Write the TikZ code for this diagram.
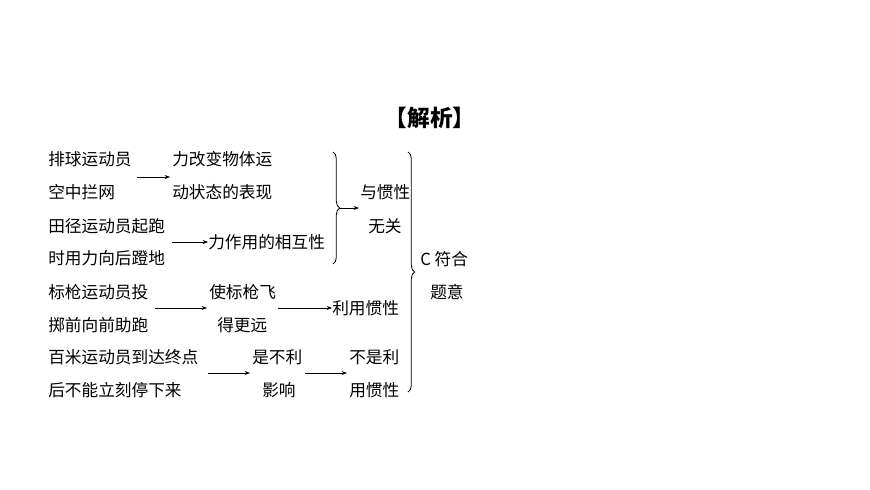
\documentclass[tikz,border=0pt]{standalone}
\usepackage{fontspec}
\setmainfont{Noto Sans CJK SC}
\usetikzlibrary{decorations.pathreplacing,arrows.meta}
\begin{document}
\begin{tikzpicture}[x=0.75pt,y=-0.75pt,
  t/.style={anchor=west,inner sep=0pt,font=\fontsize{12.5pt}{14pt}\selectfont},
  ar/.style={-{Stealth[length=4pt,width=3pt]},line width=0.5pt},
  br/.style={decorate,decoration={brace,amplitude=5pt},line width=0.6pt}]
\useasboundingbox (0,0) rectangle (870,489);
\node[font=\fontsize{17pt}{20pt}\selectfont\bfseries,inner sep=0pt] (title) at (430,118) {【解析】};
\node[t] (a1) at (48,159) {排球运动员};
\node[t] (a2) at (48,192) {空中拦网};
\node[t] (b1) at (172,159) {力改变物体运};
\node[t] (b2) at (172,192) {动状态的表现};
\node[t] (c1) at (48,226) {田径运动员起跑};
\node[t] (c2) at (48,258) {时用力向后蹬地};
\node[t] (d) at (208,242) {力作用的相互性};
\node[t] (e1) at (360,192) {与惯性};
\node[t] (e2) at (368,226) {无关};
\node[t] (f1) at (420,259) {C 符合};
\node[t] (f2) at (430,292) {题意};
\node[t] (g1) at (48,292) {标枪运动员投};
\node[t] (g2) at (48,325) {掷前向前助跑};
\node[t] (h1) at (209,292) {使标枪飞};
\node[t] (h2) at (217,325) {得更远};
\node[t] (i) at (332,308) {利用惯性};
\node[t] (j1) at (48,357) {百米运动员到达终点};
\node[t] (j2) at (48,390) {后不能立刻停下来};
\node[t] (k1) at (252,357) {是不利};
\node[t] (k2) at (262,390) {影响};
\node[t] (l1) at (349,357) {不是利};
\node[t] (l2) at (349,390) {用惯性};
\coordinate (p1) at (137,177); \coordinate (q1) at (170,177);
\coordinate (p2) at (172,242); \coordinate (p3) at (155,308); \coordinate (q3) at (207,308);
\coordinate (p4) at (278,308); \coordinate (p5) at (208,373); \coordinate (q5) at (250,373);
\coordinate (p6) at (305,373); \coordinate (q6) at (347,373);
\draw[ar] (p1) -- (q1);
\draw[ar] (p2) -- (d.west);
\draw[ar] (p3) -- (q3);
\draw[ar] (p4) -- (i.west);
\draw[ar] (p5) -- (q5);
\draw[ar] (p6) -- (q6);
\coordinate (bA) at (333,152); \coordinate (bB) at (333,264);
\draw[br] (bA) -- (bB);
\coordinate (s1) at (339,208); \coordinate (s2) at (359,208);
\draw[ar] (s1) -- (s2);
\coordinate (bC) at (408,152); \coordinate (bD) at (408,392);
\draw[br] (bC) -- (bD);
\end{tikzpicture}
\end{document}
